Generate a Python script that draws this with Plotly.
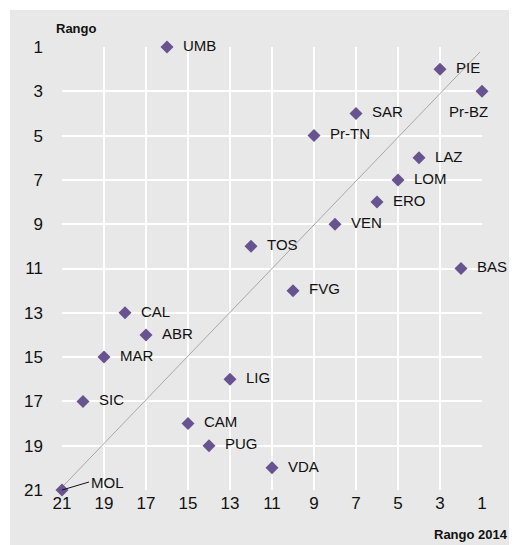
import plotly.graph_objects as go

regions = ["UMB", "PIE", "Pr-BZ", "SAR", "Pr-TN", "LAZ", "LOM", "ERO", "VEN", "TOS",
           "BAS", "FVG", "CAL", "ABR", "MAR", "LIG", "SIC", "CAM", "PUG", "VDA", "MOL"]
rank_2014 = [16, 3, 1, 7, 9, 4, 5, 6, 8, 12, 2, 10, 18, 17, 19, 13, 20, 15, 14, 11, 21]
rank = [1, 2, 3, 4, 5, 6, 7, 8, 9, 10, 11, 12, 13, 14, 15, 16, 17, 18, 19, 20, 21]
tick_vals = [21, 19, 17, 15, 13, 11, 9, 7, 5, 3, 1]
diag_x = [21.43, 1.1]
diag_y = [21.3, 1.23]

FONT = "Liberation Sans Narrow, Arial Narrow, Liberation Sans, Arial, sans-serif"
PURPLE = "#67538f"
BG = "#e8e8e8"
TXT = "#111111"

special = {"Pr-BZ", "MOL"}
labels = ["" if r in special else r for r in regions]

fig = go.Figure()
fig.add_trace(go.Scatter(x=diag_x, y=diag_y, mode="lines",
                         line=dict(color="#a8a8a8", width=1),
                         cliponaxis=False, hoverinfo="skip", showlegend=False))
# label layer (transparent markers used only to space the labels)
fig.add_trace(go.Scatter(x=rank_2014, y=rank, mode="markers+text",
                         text=labels, textposition="middle right",
                         textfont=dict(family=FONT, size=15, color=TXT),
                         marker=dict(symbol="diamond", size=24, color="rgba(0,0,0,0)"),
                         cliponaxis=False, hoverinfo="skip", showlegend=False))
fig.add_trace(go.Scatter(x=rank_2014, y=rank, mode="markers", text=regions,
                         marker=dict(symbol="diamond", size=10, color=PURPLE),
                         cliponaxis=False, showlegend=False))

for name, xv, yv in zip(regions, rank_2014, rank):
    if name == "Pr-BZ":
        fig.add_annotation(x=xv, y=yv, text=name, showarrow=False,
                           xanchor="center", yanchor="top", xshift=-14, yshift=-10,
                           font=dict(family=FONT, size=15, color=TXT))
    elif name == "MOL":
        fig.add_annotation(x=xv, y=yv, text=name, showarrow=True, arrowhead=0,
                           arrowwidth=1, arrowcolor=TXT, ax=27, ay=-8,
                           xanchor="left", font=dict(family=FONT, size=15, color=TXT))

fig.add_annotation(x=-0.019, y=1.042, xref="paper", yref="paper", text="<b>Rango</b>",
                   showarrow=False, xanchor="left", yanchor="middle",
                   font=dict(family=FONT, size=13, color=TXT))
fig.add_annotation(x=1.067, y=-0.1, xref="paper", yref="paper", text="<b>Rango 2014</b>",
                   showarrow=False, xanchor="right", yanchor="middle",
                   font=dict(family=FONT, size=13, color=TXT))

fig.add_shape(type="rect", xref="paper", yref="paper",
              x0=-0.1238, x1=1.09, y0=-0.13, y1=1.0835,
              fillcolor=BG, line=dict(width=0), layer="below")

fig.update_xaxes(range=[21, 1], tickvals=tick_vals, showgrid=True, gridcolor="white",
                 gridwidth=2, zeroline=False, showline=False, ticks="",
                 ticklabelstandoff=1,
                 tickfont=dict(family=FONT, size=17, color=TXT))
fig.update_yaxes(range=[21, 1], tickvals=tick_vals, showgrid=True, gridcolor="white",
                 gridwidth=2, zeroline=False, showline=False, ticks="",
                 ticklabelstandoff=18,
                 tickfont=dict(family=FONT, size=17, color=TXT))

fig.update_layout(width=509, height=537, paper_bgcolor="white", plot_bgcolor=BG,
                  margin=dict(l=54, r=35, t=39, b=55), showlegend=False)

fig.write_html("out.html")
